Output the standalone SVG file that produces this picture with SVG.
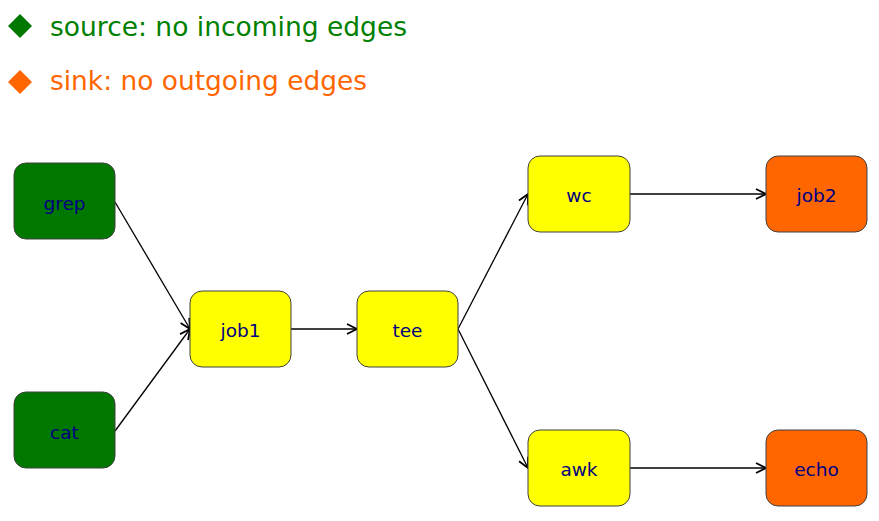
<svg xmlns="http://www.w3.org/2000/svg" width="879" height="521" viewBox="0 0 879 521">
  <style>
    .legend { font-family: "DejaVu Sans", "Liberation Sans", sans-serif; font-size: 27px; }
    .node rect { stroke: #404040; stroke-width: 1; }
    .node text { font-family: "DejaVu Sans", "Liberation Sans", sans-serif; font-size: 18.5px; fill: #000080; text-anchor: middle; dominant-baseline: central; }
    .src rect { fill: #007800; }
    .mid rect { fill: #ffff00; }
    .sink rect { fill: #ff6600; }
    .edges line { stroke: #000; stroke-width: 1.3; marker-end: url(#arrow); }
  </style>
  <defs>
    <marker id="arrow" viewBox="0 0 12 12" refX="11" refY="6" markerWidth="12" markerHeight="12" markerUnits="userSpaceOnUse" orient="auto">
      <path d="M1,1 L11,6 L1,11" fill="none" stroke="#000" stroke-width="1.8"/>
    </marker>
  </defs>
  <rect width="879" height="521" fill="#fff"/>

  <!-- legend -->
  <g id="legend-source">
    <polygon points="20,14 32,26 20,38 8,26" fill="#007800"/>
    <text class="legend" x="50" y="36" fill="#008000" textLength="357" lengthAdjust="spacingAndGlyphs">source: no incoming edges</text>
  </g>
  <g id="legend-sink">
    <polygon points="20,70 32,82 20,94 8,82" fill="#ff6600"/>
    <text class="legend" x="50" y="90" fill="#ff6600" textLength="317" lengthAdjust="spacingAndGlyphs">sink: no outgoing edges</text>
  </g>

  <!-- connectors -->
  <g id="edges" class="edges">
    <line x1="115" y1="202" x2="190" y2="329"/>
    <line x1="115" y1="431" x2="190" y2="329"/>
    <line x1="291" y1="329" x2="357" y2="329"/>
    <line x1="458" y1="329" x2="528" y2="194"/>
    <line x1="458" y1="329" x2="528" y2="468"/>
    <line x1="630" y1="194" x2="766" y2="194"/>
    <line x1="630" y1="468" x2="766" y2="468"/>
  </g>

  <!-- nodes -->
  <g id="grep" class="node src">
    <rect x="14" y="163" width="101" height="76" rx="12"/>
    <text x="64.5" y="203">grep</text>
  </g>
  <g id="cat" class="node src">
    <rect x="14" y="392" width="101" height="76" rx="12"/>
    <text x="64.5" y="432">cat</text>
  </g>
  <g id="job1" class="node mid">
    <rect x="190" y="291" width="101" height="76" rx="12"/>
    <text x="240.5" y="330">job1</text>
  </g>
  <g id="tee" class="node mid">
    <rect x="357" y="291" width="101" height="76" rx="12"/>
    <text x="407.5" y="330">tee</text>
  </g>
  <g id="wc" class="node mid">
    <rect x="528" y="156" width="102" height="76" rx="12"/>
    <text x="579" y="195">wc</text>
  </g>
  <g id="awk" class="node mid">
    <rect x="528" y="430" width="102" height="76" rx="12"/>
    <text x="579" y="469">awk</text>
  </g>
  <g id="job2" class="node sink">
    <rect x="766" y="156" width="101" height="76" rx="12"/>
    <text x="816.5" y="195">job2</text>
  </g>
  <g id="echo" class="node sink">
    <rect x="766" y="430" width="101" height="76" rx="12"/>
    <text x="816.5" y="469">echo</text>
  </g>
</svg>
